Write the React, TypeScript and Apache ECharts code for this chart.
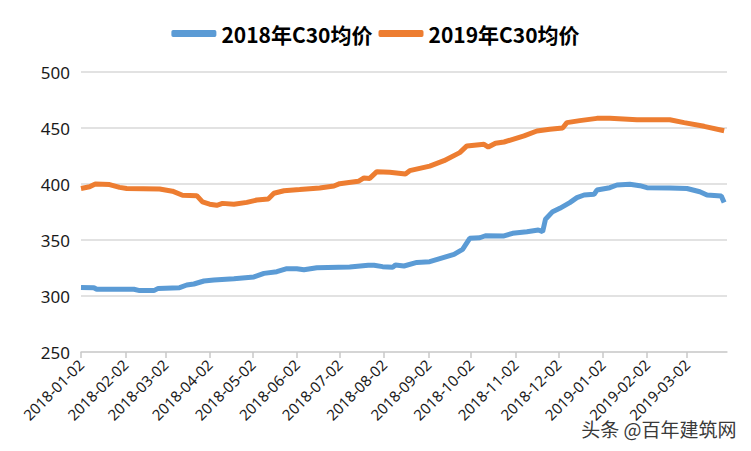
import React, { useEffect, useRef } from "react";
import * as echarts from "echarts";

const seriesNames = ["2018年C30均价", "2019年C30均价"];

const tickLabels = [
  "2018-01-02", "2018-02-02", "2018-03-02", "2018-04-02", "2018-05-02",
  "2018-06-02", "2018-07-02", "2018-08-02", "2018-09-02", "2018-10-02",
  "2018-11-02", "2018-12-02", "2019-01-02", "2019-02-02", "2019-03-02",
];

const xMin = "2018-01-02";
const xMax = "2019-03-30";

const dates2018 = [
  "2018-01-02", "2018-01-11", "2018-01-13", "2018-02-08", "2018-02-12", "2018-02-22",
  "2018-02-25", "2018-03-12", "2018-03-17", "2018-03-22", "2018-03-29", "2018-04-05",
  "2018-04-19", "2018-05-03", "2018-05-10", "2018-05-19", "2018-05-26", "2018-06-02",
  "2018-06-07", "2018-06-16", "2018-07-09", "2018-07-22", "2018-07-26", "2018-08-01",
  "2018-08-08", "2018-08-10", "2018-08-16", "2018-08-25", "2018-09-03", "2018-09-13",
  "2018-09-20", "2018-09-26", "2018-10-01", "2018-10-08", "2018-10-12", "2018-10-25",
  "2018-10-31", "2018-11-10", "2018-11-18", "2018-11-21", "2018-11-23", "2018-11-28",
  "2018-12-03", "2018-12-10", "2018-12-15", "2018-12-20", "2018-12-27", "2018-12-29",
  "2019-01-07", "2019-01-12", "2019-01-21", "2019-01-28", "2019-02-02", "2019-02-18",
  "2019-03-02", "2019-03-11", "2019-03-16", "2019-03-26", "2019-03-28",
];
const values2018 = [
  307.7, 307.4, 306, 306, 304.8, 304.8,
  306.8, 307.4, 309.8, 310.7, 313.4, 314.3,
  315.5, 317, 320.2, 321.7, 324.4, 324.4,
  323.5, 325.3, 325.9, 327.4, 327.5, 326.2,
  325.6, 327.7, 326.8, 330, 330.6, 334.5,
  337.2, 341.7, 351.5, 352, 353.8, 353.6,
  356, 357.4, 358.9, 357.4, 368.5, 375.3,
  378.3, 383.4, 387.8, 390.2, 390.8, 394.6,
  396.7, 399.1, 399.7, 398.5, 396.7, 396.4,
  396, 393.1, 390.2, 389.3, 383.4,
];

const dates2019 = [
  "2018-01-02", "2018-01-08", "2018-01-12", "2018-01-22", "2018-01-29", "2018-02-03",
  "2018-02-26", "2018-03-07", "2018-03-14", "2018-03-24", "2018-03-28", "2018-04-02",
  "2018-04-07", "2018-04-11", "2018-04-19", "2018-04-28", "2018-05-05", "2018-05-13",
  "2018-05-17", "2018-05-24", "2018-06-04", "2018-06-18", "2018-06-28", "2018-07-02",
  "2018-07-15", "2018-07-19", "2018-07-23", "2018-07-28", "2018-08-06", "2018-08-17",
  "2018-08-20", "2018-09-03", "2018-09-13", "2018-09-24", "2018-09-29", "2018-10-11",
  "2018-10-14", "2018-10-19", "2018-10-25", "2018-11-08", "2018-11-17", "2018-11-26",
  "2018-12-05", "2018-12-08", "2018-12-17", "2018-12-29", "2019-01-07", "2019-01-26",
  "2019-02-18", "2019-02-28", "2019-03-14", "2019-03-28",
];
const values2019 = [
  396, 397.5, 400, 399.5, 397, 396,
  395.5, 393.6, 390, 389.6, 384, 382,
  381, 382.7, 382, 383.6, 385.7, 386.6,
  391.7, 394, 395, 396.4, 398.2, 400.3,
  402.4, 405.4, 405, 411, 410.4, 409,
  411.9, 416, 420.8, 428, 434, 435.4,
  433, 436.3, 437.5, 442.9, 447.3, 448.8,
  450, 454.8, 456.6, 458.6, 458.6, 457.4,
  457.4, 454.8, 451.5, 447.6,
];

// day offset from xMin (calendar days), used as position on a value axis
const dayOf = (s: string) => {
  const [y, m, d] = s.split("-").map(Number);
  const [y0, m0, d0] = xMin.split("-").map(Number);
  return Math.round((Date.UTC(y, m - 1, d) - Date.UTC(y0, m0 - 1, d0)) / 86400000);
};

export default function App() {
  const ref = useRef<HTMLDivElement>(null);
  useEffect(() => {
    if (!ref.current) return;
    const chart = echarts.init(ref.current, null, { renderer: "svg" });
    const tickDays = tickLabels.map(dayOf);
    const labelMap: Record<number, string> = {};
    tickLabels.forEach((l, i) => (labelMap[tickDays[i]] = l));
    chart.setOption({
      animation: false,
      backgroundColor: "#ffffff",
      color: ["#5B9BD5", "#ED7D31"],
      legend: {
        top: 18,
        left: "center",
        icon: "roundRect",
        itemWidth: 45,
        itemHeight: 7,
        itemGap: 6,
        textStyle: {
          fontFamily: "Noto Sans CJK SC",
          fontWeight: "bold",
          fontSize: 21,
          color: "#000000",
        },
        data: seriesNames,
      },
      grid: { left: 81, right: 24, top: 72, bottom: 99 },
      xAxis: {
        type: "value",
        min: 0,
        max: dayOf(xMax),
        splitLine: { show: false },
        axisLine: { show: true, lineStyle: { color: "#d0d0d0", width: 1.5 } },
        axisTick: {
          show: true,
          inside: false,
          length: 6,
          customValues: tickDays,
          lineStyle: { color: "#c8c8c8", width: 1.5 },
        },
        axisLabel: {
          customValues: tickDays,
          rotate: 45,
          margin: 10,
          fontSize: 15,
          fontFamily: "Noto Sans",
          color: "#1a1a1a",
          formatter: (v: number) => labelMap[Math.round(v)] ?? "",
        },
      },
      yAxis: {
        type: "value",
        min: 250,
        max: 500,
        interval: 50,
        axisLine: { show: false },
        axisTick: { show: false },
        splitLine: { lineStyle: { color: "#d9d9d9", width: 1.5 } },
        axisLabel: {
          margin: 11,
          fontSize: 17,
          fontFamily: "Noto Sans",
          color: "#1a1a1a",
        },
      },
      series: [
        {
          name: seriesNames[0],
          type: "line",
          showSymbol: false,
          lineStyle: { width: 5, color: "#5B9BD5" },
          itemStyle: { color: "#5B9BD5" },
          data: dates2018.map((d, i) => [dayOf(d), values2018[i]]),
        },
        {
          name: seriesNames[1],
          type: "line",
          showSymbol: false,
          lineStyle: { width: 5, color: "#ED7D31" },
          itemStyle: { color: "#ED7D31" },
          data: dates2019.map((d, i) => [dayOf(d), values2019[i]]),
        },
      ],
      graphic: [
        {
          type: "text",
          right: 13,
          top: 417,
          style: {
            text: "头条 @百年建筑网",
            fontSize: 19,
            fontFamily: "Noto Sans CJK SC",
            fill: "#3a3a3a",
            stroke: "#ffffff",
            lineWidth: 3,
          },
        },
      ],
    });
    return () => chart.dispose();
  }, []);
  return (
    <div
      ref={ref}
      style={{ position: "fixed", left: 0, top: 0, width: 751, height: 451, background: "#fff" }}
    />
  );
}
